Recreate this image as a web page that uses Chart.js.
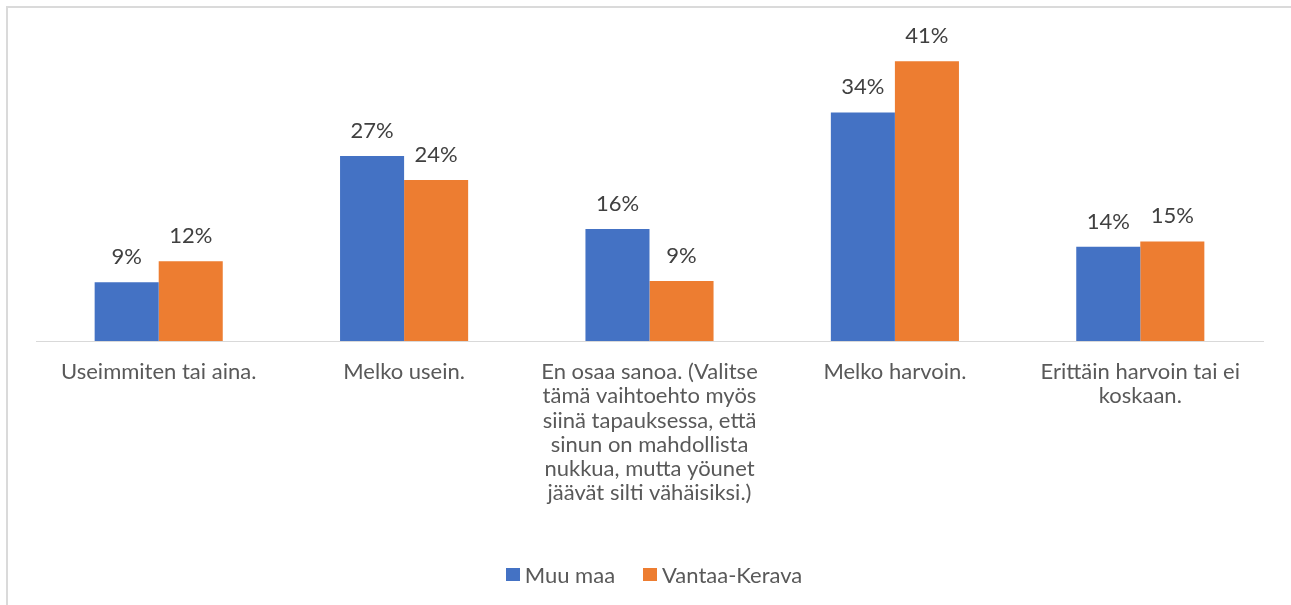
<!DOCTYPE html>
<html>
<head>
<meta charset="utf-8">
<script src="https://cdn.jsdelivr.net/npm/chart.js@4/dist/chart.umd.min.js"></script>
<style>
  html, body { margin: 0; padding: 0; background: #fff; overflow: hidden; width: 1291px; height: 605px; }
  #frame { position: absolute; left: 6px; top: 6px; width: 1300px; height: 620px; border-top: 2px solid #dadada; border-left: 2px solid #dadada; box-sizing: border-box; }
  #wrap { position: absolute; left: 0; top: 0; width: 1291px; height: 605px; }
  #legend { position: absolute; left: 0; top: 561px; width: 1308px; height: 26px; display: flex; justify-content: center; align-items: center; font-family: Lato, 'Open Sans', sans-serif; font-size: 22px; color: #595959; }
  .item { display: flex; align-items: center; margin: 0 14px; }
  .box { width: 14px; height: 13px; margin-right: 5px; }
</style>
</head>
<body>
<div id="frame"></div>
<div id="wrap"><canvas id="c" width="1291" height="605"></canvas></div>
<div id="legend"></div>
<script>
const categories = [
  ["Useimmiten tai aina."],
  ["Melko usein."],
  ["En osaa sanoa. (Valitse", "tämä vaihtoehto myös", "siinä tapauksessa, että", "sinun on mahdollista", "nukkua, mutta yöunet", "jäävät silti vähäisiksi.)"],
  ["Melko harvoin."],
  ["Erittäin harvoin tai ei", "koskaan."]
];
const seriesNames = ["Muu maa", "Vantaa-Kerava"];
const muuMaa = [8.6, 27.1, 16.4, 33.5, 13.8];
const vantaaKerava = [11.7, 23.6, 8.8, 41.0, 14.6];
const seriesColors = ["#4472C4", "#ED7D31"];

const FONT = "Lato, 'Open Sans', sans-serif";

const dataLabels = {
  id: 'dataLabels',
  afterDatasetsDraw(chart) {
    const ctx = chart.ctx;
    ctx.save();
    ctx.font = "22px " + FONT;
    ctx.fillStyle = "#404040";
    ctx.textAlign = "center";
    ctx.textBaseline = "alphabetic";
    chart.data.datasets.forEach((ds, di) => {
      const meta = chart.getDatasetMeta(di);
      meta.data.forEach((el, i) => {
        ctx.fillText(Math.round(ds.data[i]) + "%", el.x, el.y - 18);
      });
    });
    ctx.restore();
  }
};

const chart = new Chart(document.getElementById('c'), {
  type: 'bar',
  data: {
    labels: categories,
    datasets: [
      { label: seriesNames[0], data: muuMaa, backgroundColor: seriesColors[0] },
      { label: seriesNames[1], data: vantaaKerava, backgroundColor: seriesColors[1] }
    ]
  },
  options: {
    responsive: false,
    animation: false,
    devicePixelRatio: 1,
    layout: { padding: { left: 36, right: 28, top: 34, bottom: 0 } },
    datasets: { bar: { categoryPercentage: 0.522, barPercentage: 1 } },
    scales: {
      x: {
        grid: { display: false, drawTicks: false },
        border: { display: true, color: "#d9d9d9", width: 1 },
        ticks: { color: "#595959", font: { family: FONT, size: 22, lineHeight: 1.1 }, padding: 19, maxRotation: 0, autoSkip: false },
        afterFit(scale) { scale.height = 264; }
      },
      y: { display: false, min: 0, max: 45 }
    },
    plugins: {
      legend: { display: false },
      tooltip: { enabled: false }
    }
  },
  plugins: [dataLabels]
});

const legendEl = document.getElementById('legend');
chart.data.datasets.forEach(ds => {
  const item = document.createElement('div');
  item.className = 'item';
  const box = document.createElement('span');
  box.className = 'box';
  box.style.background = ds.backgroundColor;
  const txt = document.createElement('span');
  txt.textContent = ds.label;
  item.appendChild(box);
  item.appendChild(txt);
  legendEl.appendChild(item);
});
</script>
</body>
</html>
